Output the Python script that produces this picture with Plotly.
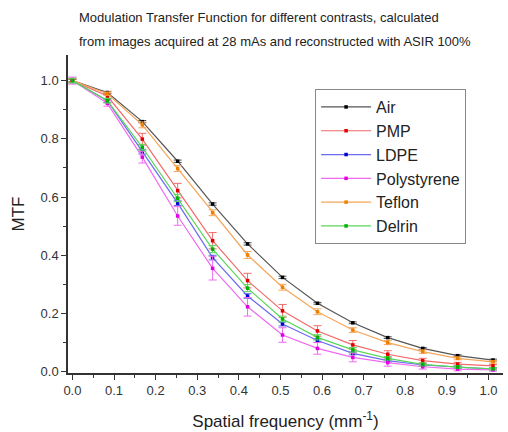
import plotly.graph_objects as go

freq = [0.0, 0.084, 0.168, 0.253, 0.337, 0.421, 0.505, 0.589, 0.674, 0.758, 0.842, 0.926, 1.011]

air = [1.000, 0.959, 0.859, 0.723, 0.576, 0.439, 0.324, 0.235, 0.168, 0.117, 0.080, 0.055, 0.040]
pmp = [1.000, 0.947, 0.799, 0.622, 0.450, 0.313, 0.209, 0.140, 0.092, 0.060, 0.038, 0.026, 0.020]
ldpe = [1.000, 0.931, 0.756, 0.579, 0.392, 0.260, 0.164, 0.107, 0.063, 0.038, 0.023, 0.015, 0.009]
poly = [1.000, 0.922, 0.737, 0.535, 0.355, 0.223, 0.126, 0.080, 0.049, 0.031, 0.017, 0.009, 0.006]
teflon = [1.000, 0.955, 0.848, 0.698, 0.546, 0.401, 0.290, 0.206, 0.143, 0.100, 0.069, 0.046, 0.034]
delrin = [1.000, 0.931, 0.771, 0.596, 0.421, 0.287, 0.181, 0.118, 0.075, 0.046, 0.025, 0.016, 0.010]

air_err = [0.004, 0.004, 0.004, 0.004, 0.004, 0.004, 0.004, 0.003, 0.003, 0.003, 0.003, 0.003, 0.003]
pmp_err = [0.006, 0.010, 0.020, 0.025, 0.028, 0.025, 0.022, 0.018, 0.015, 0.012, 0.008, 0.006, 0.005]
ldpe_err = [0.008, 0.006, 0.008, 0.008, 0.008, 0.008, 0.007, 0.006, 0.005, 0.005, 0.004, 0.004, 0.003]
poly_err = [0.012, 0.010, 0.020, 0.032, 0.040, 0.032, 0.025, 0.020, 0.015, 0.012, 0.008, 0.006, 0.004]
teflon_err = [0.006, 0.006, 0.010, 0.010, 0.010, 0.012, 0.010, 0.010, 0.008, 0.007, 0.006, 0.005, 0.004]
delrin_err = [0.008, 0.008, 0.010, 0.012, 0.012, 0.012, 0.010, 0.009, 0.008, 0.006, 0.005, 0.004, 0.004]

names = ["Air", "PMP", "LDPE", "Polystyrene", "Teflon", "Delrin"]
values = [air, pmp, ldpe, poly, teflon, delrin]
errors = [air_err, pmp_err, ldpe_err, poly_err, teflon_err, delrin_err]
line_colors = ["#555555", "#f26a6a", "#6a6af2", "#f06af0", "#f5a65a", "#5ad65a"]
marker_colors = ["#000000", "#e00000", "#0000d0", "#e000e0", "#f08000", "#00b000"]

fig = go.Figure()
for n, v, e, lc, mc in zip(names, values, errors, line_colors, marker_colors):
    fig.add_trace(go.Scatter(
        x=freq, y=v, name=n, mode="lines+markers",
        line=dict(color=lc, width=1.2),
        marker=dict(color=mc, size=3.5, symbol="square"),
        error_y=dict(type="data", array=e, visible=True, color=lc, thickness=1, width=4),
    ))

axis_common = dict(
    showline=True, linecolor="#333333", linewidth=1.5,
    ticks="outside", ticklen=5, tickwidth=1.2, tickcolor="#333333",
    showgrid=False, zeroline=False,
    tickfont=dict(family="Liberation Sans, Arial", size=13, color="#333333"),
    minor=dict(ticks="outside", ticklen=3, tickwidth=1, tickcolor="#333333"),
)

fig.update_layout(
    width=508, height=432,
    margin=dict(l=68, r=5, t=55, b=59),
    paper_bgcolor="white", plot_bgcolor="white",
    showlegend=True,
    font=dict(family="Liberation Sans, Arial", color="#222222"),
    xaxis=dict(range=[-0.0106, 1.035], dtick=0.1, tick0=0, tickformat=".1f",
               title=dict(text="Spatial frequency (mm<sup>-1</sup>)", font=dict(size=17, color="#222222"), standoff=18),
               **axis_common),
    yaxis=dict(range=[-0.0045, 1.088], dtick=0.2, tick0=0, tickformat=".1f",
               title=dict(text="MTF", font=dict(size=17, color="#222222"), standoff=12),
               **axis_common),
    legend=dict(x=0.568, y=0.893, xanchor="left", yanchor="top",
                bordercolor="#888888", borderwidth=1, bgcolor="white",
                font=dict(size=16, color="#222222"), itemwidth=50, tracegroupgap=0),
    annotations=[
        dict(text="Modulation Transfer Function for different contrasts, calculated",
             xref="paper", yref="paper", x=0.0207, y=1.1164, xanchor="left", yanchor="middle",
             showarrow=False, font=dict(size=13, color="#222222")),
        dict(text="from images acquired at 28 mAs and reconstructed with ASIR 100%",
             xref="paper", yref="paper", x=0.0207, y=1.0409, xanchor="left", yanchor="middle",
             showarrow=False, font=dict(size=13, color="#222222")),
    ],
)
fig.update_xaxes(minor=dict(dtick=0.05))
fig.update_yaxes(minor=dict(dtick=0.1))

fig.write_html("out.html")
